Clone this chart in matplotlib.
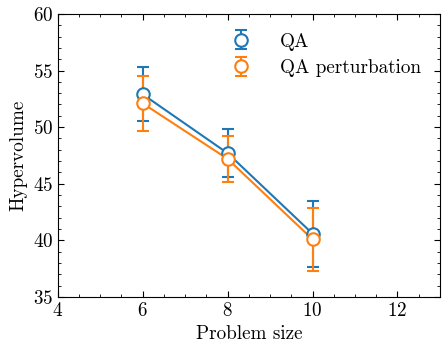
import matplotlib
matplotlib.use("Agg")
import matplotlib.pyplot as plt
import numpy as np

plt.rcParams['font.family'] = 'serif'
plt.rcParams['font.serif'] = ['cmr10']
plt.rcParams['mathtext.fontset'] = 'cm'
plt.rcParams['axes.unicode_minus'] = False
plt.rcParams['axes.formatter.use_mathtext'] = True

# data
sizes = [6, 8, 10]
qa_mean = [52.9, 47.7, 40.6]
qa_err = [2.4, 2.1, 2.9]
pert_mean = [52.1, 47.2, 40.1]
pert_err = [2.4, 2.0, 2.8]

fs = 13.8
fig = plt.figure(figsize=(4.48, 3.55), dpi=100)
ax = fig.add_axes([0.129, 0.163, 0.853, 0.798])

for mean, err, col, lab in [(qa_mean, qa_err, '#1f77b4', 'QA'),
                            (pert_mean, pert_err, '#ff7f0e', 'QA perturbation')]:
    ax.plot(sizes, mean, color=col, linewidth=1.5)
    ax.errorbar(sizes, mean, yerr=err, fmt='o', color=col, markersize=9,
                markerfacecolor='white', markeredgewidth=1.5, elinewidth=1.5,
                capsize=4, capthick=1.5, label=lab)

ax.set_xlim(4, 13)
ax.set_ylim(35, 60)
ax.set_xticks([4, 6, 8, 10, 12])
ax.set_yticks([35, 40, 45, 50, 55, 60])
ax.set_xticks(np.arange(4, 13.01, 0.5), minor=True)
ax.set_yticks(np.arange(35, 61, 1), minor=True)
ax.tick_params(which='both', direction='in', top=True, right=True, labelsize=fs)
ax.tick_params(which='major', length=4, width=0.8)
ax.tick_params(which='minor', length=2.3, width=0.6)

ax.set_xlabel('Problem size', fontsize=fs)
ax.set_ylabel('Hypervolume', fontsize=fs)
ax.legend(loc='upper left', bbox_to_anchor=(0.385, 0.995), frameon=False,
          fontsize=fs, handletextpad=1.0, labelspacing=0.45)

fig.savefig('out.png', dpi=100)
